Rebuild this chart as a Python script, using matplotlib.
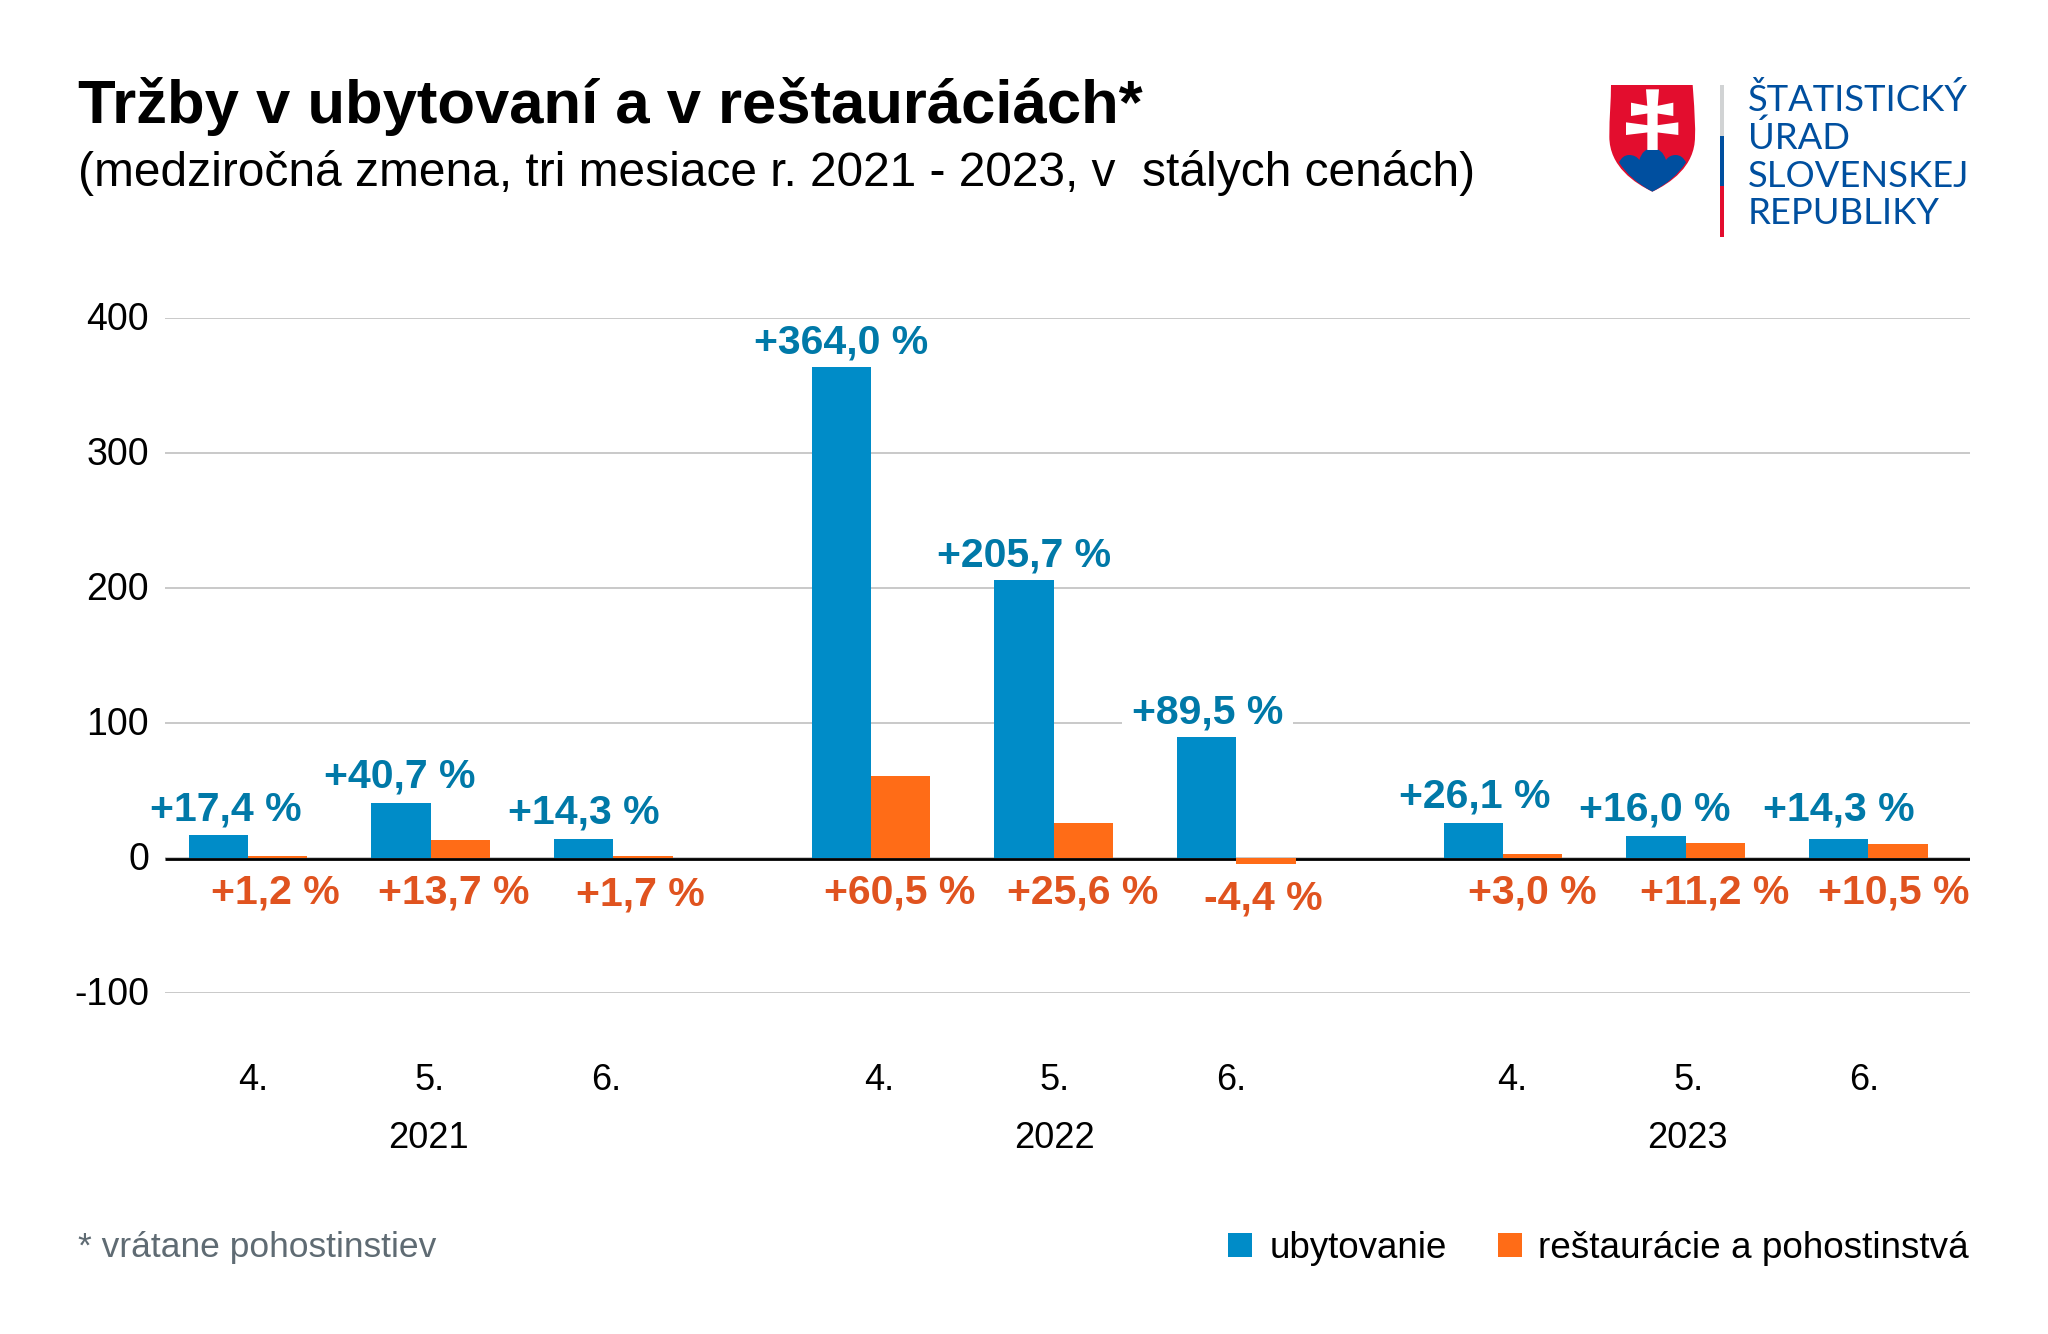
import matplotlib
matplotlib.use("Agg")
import matplotlib.pyplot as plt
from matplotlib.patches import Polygon, Rectangle, PathPatch
from matplotlib.path import Path
from matplotlib.transforms import offset_copy, ScaledTranslation

W, H = 2048, 1334
title = "Tržby v ubytovaní a v reštauráciách*"
subtitle = "(medziročná zmena, tri mesiace r. 2021 - 2023, v  stálych cenách)"
years = ["2021", "2022", "2023"]
months = ["4.", "5.", "6."]
ubytovanie = [17.4, 40.7, 14.3, 364.0, 205.7, 89.5, 26.1, 16.0, 14.3]
restauracie = [1.2, 13.7, 1.7, 60.5, 25.6, -4.4, 3.0, 11.2, 10.5]
lab_u = ["+17,4 %", "+40,7 %", "+14,3 %", "+364,0 %", "+205,7 %", "+89,5 %", "+26,1 %", "+16,0 %", "+14,3 %"]
lab_r = ["+1,2 %", "+13,7 %", "+1,7 %", "+60,5 %", "+25,6 %", "-4,4 %", "+3,0 %", "+11,2 %", "+10,5 %"]
yticks = [-100, 0, 100, 200, 300, 400]

C_U, C_R = "#008CC8", "#FF6C17"
T_U, T_R = "#0079A8", "#E0531F"
plt.rcParams["font.family"] = ["Liberation Sans", "DejaVu Sans"]

fig = plt.figure(figsize=(W / 100, H / 100), dpi=100, facecolor="white")
L, R, T, B = 165, 1970, 318, 993
ax = fig.add_axes([L / W, 1 - B / H, (R - L) / W, (B - T) / H])
ax.set_xlim(L, R)
ax.set_ylim(-100, 400)

# category centres on a pixel-like x scale
step, bw = 182.6, 59.4
starts = [248.0, 871.0, 1503.0]
xs = [s + i * step for s in starts for i in range(3)]

ax.set_axisbelow(True)
ax.yaxis.grid(True, color="#BBBBBB", lw=1.1)
ax.xaxis.grid(False)
for s in ax.spines.values():
    s.set_visible(False)
ax.set_xticks([])
ax.set_yticks(yticks)
ax.set_yticklabels([str(t) for t in yticks], fontsize=27, color="black")
ax.tick_params(axis="y", length=0, pad=11.5)
for lbl in ax.get_yticklabels():
    lbl.set_transform(lbl.get_transform() + ScaledTranslation(0, 2 / 100, fig.dpi_scale_trans))

ax.bar([x - bw / 2 for x in xs], ubytovanie, bw, color=C_U, zorder=3)
ax.bar([x + bw / 2 for x in xs], restauracie, bw, color=C_R, zorder=3)
ax.plot([0, 1], [0, 0], color="black", lw=2.0, zorder=2.5, solid_capstyle="butt",
        transform=offset_copy(ax.get_yaxis_transform(), fig, y=-1.0, units="points"))

LS = 29.5
u_dx = [-22, -31, -29, -30, -30, -29, -28, -31, -29]
u_dy = [25, 27, 26, 24, 25, 25, 26, 27, 29]
r_dx = [27.6, 22.7, 27, 29, 29, 27, 29, 29, 26]
r_dy = [-35, -35, -36, -35, -35, -41, -35, -35, -35]
for i, (x, v, s, dx, dy) in enumerate(zip(xs, ubytovanie, lab_u, u_dx, u_dy)):
    box = dict(facecolor="white", edgecolor="none", pad=7) if s == "+89,5 %" else None
    ax.annotate(s, (x, v), xytext=(dx * .72, dy * .72), textcoords="offset points",
                ha="center", va="center", fontsize=LS, fontweight="bold", color=T_U, bbox=box, zorder=2.8)
for x, s, dx, dy in zip(xs, lab_r, r_dx, r_dy):
    ax.annotate(s, (x, 0), xytext=(dx * .72, dy * .72), textcoords="offset points",
                ha="center", va="center", fontsize=LS, fontweight="bold", color=T_R, zorder=4)

# axis labels sit on their own spacing, tighter than the bars
lab_step = 176.3
lab_starts = [253.4, 878.7, 1512.0]
lab_xs = [s + i * lab_step for s in lab_starts for i in range(3)]
for x, m in zip(lab_xs, months * 3):
    fig.text(x / W, 1 - 1081 / H, m, ha="center", va="center", fontsize=26)
for i, y in enumerate(years):
    fig.text((lab_xs[i * 3 + 1] - 1) / W, 1 - 1139 / H, y, ha="center", va="center", fontsize=26)

fig.text(78 / W, 1 - 106 / H, title, ha="left", va="center", fontsize=44.4, fontweight="bold")
fig.text(78 / W, 1 - 173 / H, subtitle, ha="left", va="center", fontsize=34.5)
fig.text(78 / W, 1 - 1248 / H, "* vrátane pohostinstiev", ha="left", va="center", fontsize=25.5, color="#5F6B73")

# legend, drawn in figure pixels
ov = fig.add_axes([0, 0, 1, 1], facecolor="none")
ov.set_xlim(0, W); ov.set_ylim(H, 0); ov.axis("off")
ov.add_patch(Rectangle((1228, 1233), 24, 24, color=C_U, lw=0))
ov.add_patch(Rectangle((1498, 1233), 24, 24, color=C_R, lw=0))
ov.text(1269.5, 1248, "ubytovanie", va="center", ha="left", fontsize=26.5)
ov.text(1538.5, 1248, "reštaurácie a pohostinstvá", va="center", ha="left", fontsize=26.6)

# logo
ox, oy = 1580, 60
def P(x, y):
    return (ox + x / 3, oy + y / 3)
RED, BLUE = "#E30D2E", "#004F9F"
M, LN, C3, C4, Z = Path.MOVETO, Path.LINETO, Path.CURVE3, Path.CURVE4, Path.CLOSEPOLY
shield = [P(93, 75), P(338, 75),
          P(345, 170), P(346, 200), P(345, 230),
          P(345, 320), P(270, 370), P(217, 395),
          P(165, 370), P(88, 320), P(88, 230),
          P(88, 170), P(93, 120), P(93, 75), P(93, 75)]
codes = [M, LN, C4, C4, C4, C4, C4, C4, C4, C4, C4, C4, C4, C4, Z]
ov.add_patch(PathPatch(Path(shield, codes), fc=RED, ec="none"))
hills = [P(117, 307), P(128, 285), P(147, 285), P(168, 285), P(178, 300),
         P(188, 265), P(217, 265), P(247, 265), P(258, 300),
         P(268, 285), P(287, 285), P(307, 285), P(318, 307),
         P(285, 360), P(217, 395), P(150, 360), P(117, 307)]
ov.add_patch(PathPatch(Path(hills, [M] + [C3] * 16), fc=BLUE, ec="none"))
cross_v = [P(198, 88), P(237, 88), P(233, 140), P(233, 270), P(202, 270), P(202, 140)]
cross_a = [P(153, 128), P(205, 138), P(230, 138), P(280, 128), P(280, 168), P(230, 160), P(205, 160), P(153, 168)]
cross_b = [P(138, 187), P(205, 196), P(230, 196), P(295, 187), P(295, 225), P(230, 217), P(205, 217), P(138, 225)]
for pts in (cross_v, cross_a, cross_b):
    ov.add_patch(Polygon(pts, fc="white", ec="none"))
def rect(x0, y0, x1, y1, c):
    a, b = P(x0, y0), P(x1, y1)
    ov.add_patch(Rectangle(a, b[0] - a[0], b[1] - a[1], fc=c, ec="none"))
rect(420, 75, 432, 228, "#D1D3D4")
rect(420, 228, 432, 378, BLUE)
rect(420, 378, 432, 530, RED)
for txt, y in zip(["ŠTATISTICKÝ", "ÚRAD", "SLOVENSKEJ", "REPUBLIKY"], [152, 267, 380, 492]):
    xx, yy = P(503, y)
    ov.text(xx, yy, txt, ha="left", va="baseline", fontsize=26.2, family="Lato", color=BLUE)

fig.savefig("out.png", dpi=100, facecolor="white")
